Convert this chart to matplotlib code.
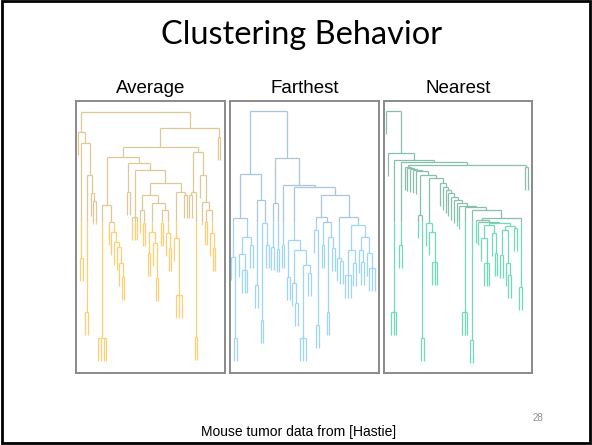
import matplotlib
matplotlib.use("Agg")
import matplotlib.pyplot as plt
from matplotlib.collections import LineCollection
from matplotlib.patches import Rectangle

# ---------------- data ----------------
# A tree node is [merge height, child, child, ...]; a leaf is L.
L = 0

def chain(heights, tail):
    """single-link style chaining: each height merges one leaf into the rest"""
    node = tail
    for h in reversed(heights):
        node = [h, L, node]
    return node

avg_left = [241, L, [230, [115, L, L], [198, [61, L, L], [180, L, [172, L, L]]]]]
avg_m1a = [168, [35, L, L, L, L],
           [151, L, [141, L, [131, L, [126, L, [110, L, [96, L, L]]]]]]]
avg_m1b = [210, [181, L, L],
           [203, [156, L, L, L],
            [190, [178, [163, L, [150, L, L]],
                   [170, [141, [120, L, L], [130, L, [95, L, L]]],
                    [163, [150, L, L], [140, L, [125, L, L]]]]],
             [181, [135, L, [78, L, L, L]], [178, L, L]]]]]
avg_m2 = [221, [181, [178, L, L], [36, L, L]],
          [198, L, [171, L, [163, [151, L, L], [140, L, [125, L, L]]]]]]
average_tree = [261, avg_left, [245, [226, [216, avg_m1a, avg_m1b], avg_m2], [236, L, L]]]

far_left = [199, [155, [116, L, [35, L, L]], [136, [119, L, [103, L, L, L]], [128, L, L]]],
            [173, [88, L, L], [150, [53, L, L], [128, L, L]]]]
far_r3a = [133, [96, L, L], [123, [90, L, [70, L, L]], [108, [35, L, L, L], [100, L, L]]]]
far_r3b = [178, [156, [143, L, [48, L, L]], [151, [128, L, L], [136, [61, L, L], [125, L, L]]]],
           [156, [115, L, [112, L, L]],
            [148, [123, [98, L, L, L], [110, L, L]],
             [136, [123, L, [111, L, L]], [120, L, [105, L, L, L]]]]]]
far_right = [215, [170, [126, L, L], [124, L, L]], [188, [128, L, L], [186, far_r3a, far_r3b]]]
farthest_tree = [262, far_left, far_right]

near_lc = [153, L, [151, L, [150,
           [148, [135, L, [110, L, L, L]], [140, L, [120, L, L]]],
           [147, [143, [118, L, L], [110, L, [98, L, L]]], [145, L, L]]]]]
near_t6 = [155, near_lc, [86, L, L]]
near_t5 = [163, [33, L, L], near_t6]
near_t4 = [166, [61, L, L, L], near_t5]
near_t3 = chain([190, 186, 183, 180, 176, 173, 170, 167], near_t4)
near_t2 = [195, [150, L, [141, L, [111, L, L, L]]], near_t3]
near_t1 = [198, [158, L, [35, L, L]], near_t2]
near_n5 = chain([206, 205, 204, 203, 202], near_t1)
nearest_tree = [262, L, [220, L, [213, [61, L, L, L], [211, [128, L, L],
                [208, near_n5, [206, L, L]]]]]]

panel_titles = ["Average", "Farthest", "Nearest"]
trees = [average_tree, farthest_tree, nearest_tree]
upper_colors = ["#dfc894", "#a9c7dc", "#86bfae"]
lower_colors = ["#ffcf72", "#9fd6f7", "#6fdcb6"]

title = "Clustering Behavior"
footer = "Mouse tumor data from [Hastie]"
page_no = "28"

# ---------------- layout ----------------
W, H = 592, 445
HANG = 23
SPLIT = 151
boxes = [(76, 225), (230, 379), (384, 532)]   # pixel x extents of the panels
box_top, box_bot = 101, 373


def layout(node, segs, counter):
    """returns x of node; appends line segments"""
    h = node[0]
    xs = []
    for ch in node[1:]:
        if isinstance(ch, list):
            cx = layout(ch, segs, counter)
            segs.append(((cx, h), (cx, ch[0])))
        else:
            cx = counter[0]
            counter[0] += 1
            segs.append(((cx, h), (cx, h - HANG)))
        xs.append(cx)
    segs.append(((min(xs), h), (max(xs), h)))
    return sum([min(xs), max(xs)]) / 2.0


fig = plt.figure(figsize=(W / 100, H / 100), dpi=100)
fig.patch.set_facecolor("white")

for k, (tree, name) in enumerate(zip(trees, panel_titles)):
    x0, x1 = boxes[k]
    ax = fig.add_axes([x0 / W, 1 - box_bot / H, (x1 - x0) / W, (box_bot - box_top) / H])
    segs = []
    counter = [0]
    layout(tree, segs, counter)
    n = counter[0]
    step = (x1 - x0 - 6) / (n - 1)
    ax.set_xlim(-1.5 / step, (n - 1) + 4.5 / step)
    ax.set_ylim(0, box_bot - box_top)
    up, lo = [], []
    for (a, b) in segs:
        ya, yb = a[1], b[1]
        if min(ya, yb) >= SPLIT:
            up.append((a, b))
        elif max(ya, yb) <= SPLIT:
            lo.append((a, b))
        else:
            up.append(((a[0], max(ya, yb)), (a[0], SPLIT)))
            lo.append(((a[0], SPLIT), (a[0], min(ya, yb))))
    ax.add_collection(LineCollection(up, colors=upper_colors[k], linewidths=0.9))
    ax.add_collection(LineCollection(lo, colors=lower_colors[k], linewidths=0.9))
    ax.set_xticks([])
    ax.set_yticks([])
    for s in ax.spines.values():
        s.set_color("#8a8a8a")
        s.set_linewidth(1.4)
    ax.set_title(name, fontsize=13.5, family="Liberation Sans", pad=6)

fig.text(302 / W, 1 - 35 / H, title, ha="center", va="center", fontsize=23.4,
         family="Lato", color="black")
fig.text(299 / W, 1 - 432 / H, footer, ha="center", va="center", fontsize=10,
         family="Liberation Sans", color="black")
fig.text(538 / W, 1 - 418 / H, page_no, ha="center", va="center", fontsize=7,
         family="Liberation Sans", color="#8c8c8c")

fig.patches.append(Rectangle((1.5 / W, 2.5 / H), 588.5 / W, 441.5 / H,
                             transform=fig.transFigure, fill=False,
                             edgecolor="black", linewidth=2))

fig.savefig("out.png", dpi=100, facecolor="white")
